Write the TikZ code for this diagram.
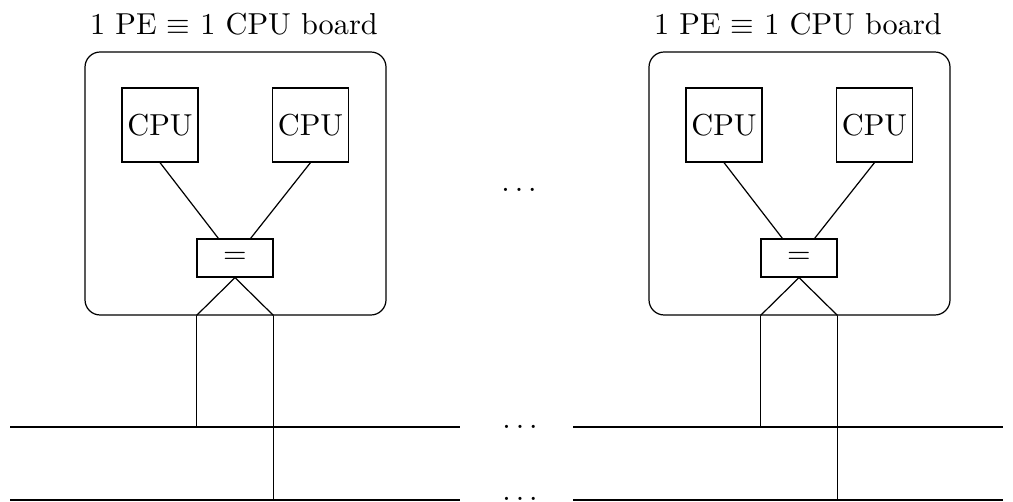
\documentclass[tikz,border=0pt]{standalone}
\usetikzlibrary{calc}
\begin{document}
\begin{tikzpicture}[x=0.33pt,y=-0.33pt,line width=0.4pt,
  board/.style={draw,rounded corners=5pt,minimum width=99.33pt,minimum height=86.79pt,inner sep=0pt},
  cpubox/.style={draw,minimum width=25.08pt,minimum height=24.42pt,inner sep=0pt},
  eqbox/.style={draw,minimum width=25.08pt,minimum height=12.54pt,inner sep=0pt},
  titletext/.style={anchor=base,inner sep=0pt},
  dotsnode/.style={inner sep=0pt}]
\useasboundingbox (0,0) rectangle (1013,502);
% buses
\coordinate (busAl) at (10,427);
\coordinate (busAm) at (460,427);
\coordinate (busAn) at (573,427);
\coordinate (busAr) at (1003,427);
\coordinate (busBl) at (10,500);
\coordinate (busBm) at (460,500);
\coordinate (busBn) at (573,500);
\coordinate (busBr) at (1003,500);
\draw (busAl) -- (busAm);
\draw (busAn) -- (busAr);
\draw (busBl) -- (busBm);
\draw (busBn) -- (busBr);
\node[dotsnode] (dotsA) at (520,427) {$\ldots$};
\node[dotsnode] (dotsB) at (520,499) {$\ldots$};
\node[dotsnode] (dotsM) at (519,190) {$\ldots$};
\foreach \o/\n in {0/L,564/R} {
  \node[board] (board\n) at (235.5+\o,183.5) {};
  \node[titletext] (title\n) at (234+\o,35) {1 PE $\equiv$ 1 CPU board};
  \node[cpubox] (cpuA\n) at (160+\o,125) {CPU};
  \node[cpubox] (cpuB\n) at (310.5+\o,125) {CPU};
  \node[eqbox] (eq\n) at (235+\o,258) {$=$};
  \draw (cpuA\n.south) -- ($(eq\n.north west)+(22,0)$);
  \draw (cpuB\n.south) -- ($(eq\n.north east)+(-23,0)$);
  \draw (eq\n.south west |- board\n.south) -- (eq\n.south) -- (eq\n.south east |- board\n.south);
  \draw (eq\n.south west |- board\n.south) -- (eq\n.south west |- busAl);
  \draw (eq\n.south east |- board\n.south) -- (eq\n.south east |- busBl);
}
\end{tikzpicture}
\end{document}
